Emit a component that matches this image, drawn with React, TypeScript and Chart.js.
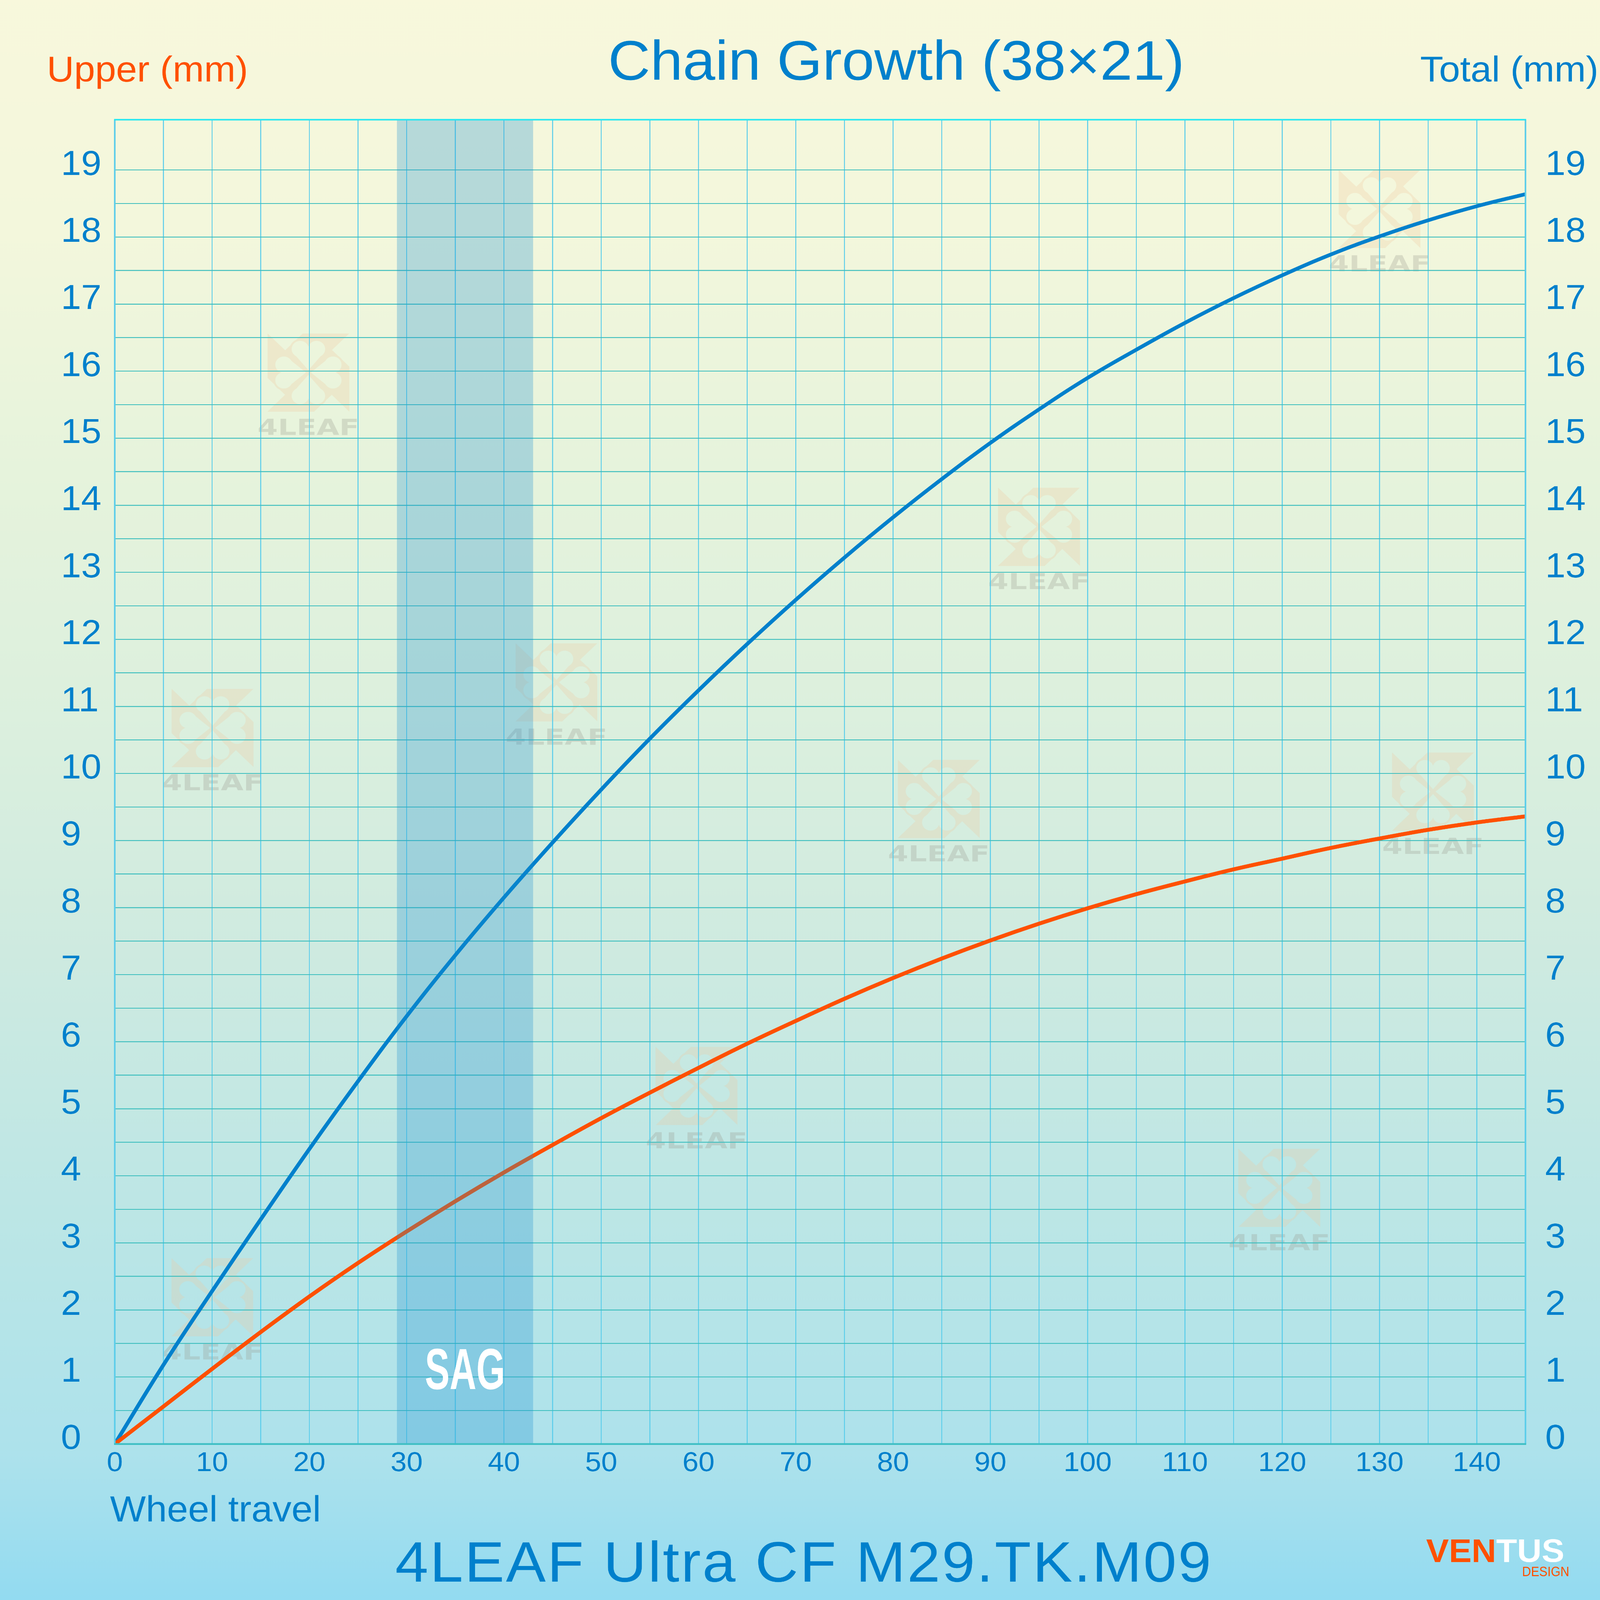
import React, { useEffect, useRef, useState } from 'react';
import { Chart, registerables } from 'chart.js';

Chart.register(...registerables);

// ---------- data ----------
const wheelTravel = [0, 5, 10, 15, 20, 25, 30, 35, 40, 45, 50, 55, 60, 65, 70, 75, 80, 85, 90, 95, 100, 105, 110, 115, 120, 125, 130, 135, 140, 145];
const totalGrowth = [0, 1.18, 2.28, 3.35, 4.4, 5.41, 6.38, 7.29, 8.15, 8.97, 9.76, 10.52, 11.24, 11.93, 12.59, 13.22, 13.82, 14.39, 14.93, 15.43, 15.9, 16.32, 16.72, 17.09, 17.43, 17.74, 18.01, 18.25, 18.46, 18.64];
const upperGrowth = [0, 0.56, 1.12, 1.67, 2.2, 2.7, 3.17, 3.62, 4.05, 4.46, 4.86, 5.24, 5.61, 5.97, 6.31, 6.64, 6.95, 7.24, 7.51, 7.76, 7.99, 8.2, 8.39, 8.57, 8.73, 8.89, 9.03, 9.16, 9.27, 9.36];
const xGridValues = [0, 5, 10, 15, 20, 25, 30, 35, 40, 45, 50, 55, 60, 65, 70, 75, 80, 85, 90, 95, 100, 105, 110, 115, 120, 125, 130, 135, 140, 145];
const xTickLabels = [0, 10, 20, 30, 40, 50, 60, 70, 80, 90, 100, 110, 120, 130, 140];
const yGridValues = [0, 0.5, 1, 1.5, 2, 2.5, 3, 3.5, 4, 4.5, 5, 5.5, 6, 6.5, 7, 7.5, 8, 8.5, 9, 9.5, 10, 10.5, 11, 11.5, 12, 12.5, 13, 13.5, 14, 14.5, 15, 15.5, 16, 16.5, 17, 17.5, 18, 18.5, 19];
const yTickLabels = [0, 1, 2, 3, 4, 5, 6, 7, 8, 9, 10, 11, 12, 13, 14, 15, 16, 17, 18, 19];
const xRange = [0, 145];
const yRange = [0, 19.75];
const sagRange = [29, 43];
const sagLabelAt = [36, 0.82];
const watermarkSpots = [
  [19.9, 15.98], [10.05, 10.68], [45.4, 11.36], [95, 13.68], [130, 18.42],
  [84.7, 9.62], [135.5, 9.73], [59.8, 5.34], [119.7, 3.82], [10.03, 2.19],
];

const chartTitle = 'Chain Growth (38×21)';
const leftAxisTitle = 'Upper (mm)';
const rightAxisTitle = 'Total (mm)';
const xAxisTitle = 'Wheel travel';
const modelName = '4LEAF Ultra CF M29.TK.M09';
const sagLabel = 'SAG';
const watermarkText = '4LEAF';
const brandA = 'VEN';
const brandB = 'TUS';
const brandSub = 'DESIGN';

// ---------- style ----------
const W = 7039;
const H = 7365;
const BLUE = '#0080cc';
const ORANGE = '#ff5000';
const FONT = "'Liberation Sans', Arial, Helvetica, sans-serif";
const PLOT = { left: 505, right: 6711, top: 551, bottom: 6647 };

function buildLogo(s: number): HTMLCanvasElement {
  const c = document.createElement('canvas');
  c.width = s;
  c.height = s;
  const g = c.getContext('2d') as CanvasRenderingContext2D;
  const poly = [
    [0, 0], [0.216, 0.216], [0.432, 0], [1, 0], [0.788, 0.212], [1, 0.425],
    [1, 1], [0.785, 0.785], [0.57, 1], [0, 1], [0.215, 0.785], [0, 0.568],
  ];
  g.fillStyle = 'rgb(240,200,160)';
  g.beginPath();
  poly.forEach(([x, y], i) => (i ? g.lineTo(x * s, y * s) : g.moveTo(x * s, y * s)));
  g.closePath();
  g.fill();

  const leafParts = (rot: number) => {
    const paths: Path2D[] = [];
    const tr = (x: number, y: number) => {
      const dx = x - 0.5, dy = y - 0.5;
      const c0 = Math.cos(rot), s0 = Math.sin(rot);
      return [(0.5 + dx * c0 - dy * s0) * s, (0.5 + dx * s0 + dy * c0) * s];
    };
    for (const cx of [0.4, 0.6]) {
      const p = new Path2D();
      const [px, py] = tr(cx, 0.2);
      p.arc(px, py, 0.105 * s, 0, Math.PI * 2);
      paths.push(p);
    }
    const t = new Path2D();
    const a = tr(0.298, 0.23), b = tr(0.702, 0.23), d = tr(0.5, 0.47);
    t.moveTo(a[0], a[1]);
    t.lineTo(b[0], b[1]);
    t.lineTo(d[0], d[1]);
    t.closePath();
    paths.push(t);
    return paths;
  };
  const all: Path2D[] = [];
  for (let k = 0; k < 4; k++) all.push(...leafParts((k * Math.PI) / 2));
  g.strokeStyle = 'rgb(240,200,160)';
  g.lineWidth = 0.045 * s;
  g.lineJoin = 'round';
  all.forEach((p) => g.stroke(p));
  g.globalCompositeOperation = 'destination-out';
  all.forEach((p) => g.fill(p));
  g.globalCompositeOperation = 'source-over';
  return c;
}

const backgroundPlugin = {
  id: 'backgroundPlugin',
  beforeDraw(chart: any) {
    const ctx = chart.ctx as CanvasRenderingContext2D;
    const grad = ctx.createLinearGradient(0, 0, 0, H);
    grad.addColorStop(0, 'rgb(248,248,220)');
    grad.addColorStop(0.15, 'rgb(243,247,220)');
    grad.addColorStop(0.27, 'rgb(232,244,220)');
    grad.addColorStop(0.45, 'rgb(220,240,222)');
    grad.addColorStop(0.58, 'rgb(208,235,224)');
    grad.addColorStop(0.77, 'rgb(187,230,230)');
    grad.addColorStop(0.91, 'rgb(173,226,236)');
    grad.addColorStop(1, 'rgb(147,219,241)');
    ctx.save();
    ctx.fillStyle = grad;
    ctx.fillRect(0, 0, W, H);

    // watermarks
    const xs = chart.scales.x;
    const ys = chart.scales.y;
    const S = 360;
    const logo = buildLogo(S);
    watermarkSpots.forEach(([vx, vy]) => {
      const px = xs.getPixelForValue(vx);
      const py = ys.getPixelForValue(vy);
      ctx.globalAlpha = 0.27;
      ctx.drawImage(logo, px - S / 2, py - S / 2, S, S);
      ctx.globalAlpha = 1;
      ctx.save();
      ctx.font = `bold 101px 'DejaVu Sans', ${FONT}`;
      const tw = ctx.measureText(watermarkText).width;
      const sx = 448 / tw;
      ctx.translate(px, py + 261);
      ctx.scale(sx, 1);
      ctx.fillStyle = 'rgba(150,150,140,0.28)';
      ctx.textAlign = 'center';
      ctx.textBaseline = 'middle';
      ctx.fillText(watermarkText, 0, 0);
      ctx.restore();
    });
    ctx.restore();
  },
};

const overlayPlugin = {
  id: 'overlayPlugin',
  afterDatasetsDraw(chart: any) {
    const ctx = chart.ctx as CanvasRenderingContext2D;
    const area = chart.chartArea;
    const xs = chart.scales.x;
    const ys = chart.scales.y;
    ctx.save();
    // SAG band
    const x0 = xs.getPixelForValue(sagRange[0]);
    const x1 = xs.getPixelForValue(sagRange[1]);
    ctx.fillStyle = 'rgba(26,142,210,0.286)';
    ctx.fillRect(x0, area.top, x1 - x0, area.bottom - area.top);
    // SAG label
    ctx.save();
    ctx.translate(xs.getPixelForValue(sagLabelAt[0]), ys.getPixelForValue(sagLabelAt[1]));
    ctx.scale(0.61, 1);
    ctx.font = `bold 267px ${FONT}`;
    ctx.fillStyle = '#ffffff';
    ctx.textAlign = 'center';
    ctx.textBaseline = 'alphabetic';
    ctx.fillText(sagLabel, 0, 0);
    ctx.restore();
    // frame
    ctx.lineCap = 'butt';
    ctx.lineWidth = 7;
    ctx.strokeStyle = '#5ccdea';
    ctx.beginPath();
    ctx.moveTo(area.left, area.top);
    ctx.lineTo(area.left, area.bottom);
    ctx.moveTo(area.right, area.top);
    ctx.lineTo(area.right, area.bottom);
    ctx.stroke();
    ctx.strokeStyle = '#3fbfc4';
    ctx.lineWidth = 8;
    ctx.beginPath();
    ctx.moveTo(area.left - 3, area.bottom);
    ctx.lineTo(area.right + 3, area.bottom);
    ctx.stroke();
    ctx.strokeStyle = '#22e8f2';
    ctx.lineWidth = 7;
    ctx.beginPath();
    ctx.moveTo(area.left - 3, area.top);
    ctx.lineTo(area.right + 3, area.top);
    ctx.stroke();
    ctx.restore();
  },
  afterDraw(chart: any) {
    const ctx = chart.ctx as CanvasRenderingContext2D;
    ctx.save();
    ctx.textBaseline = 'alphabetic';
    // main title
    ctx.fillStyle = BLUE;
    ctx.font = `257px ${FONT}`;
    ctx.textAlign = 'center';
    ctx.fillText(chartTitle, 3943, 367);
    // axis titles
    ctx.font = `166px ${FONT}`;
    ctx.fillStyle = ORANGE;
    ctx.textAlign = 'left';
    ctx.fillText(leftAxisTitle, 206, 375);
    ctx.fillStyle = BLUE;
    ctx.textAlign = 'right';
    ctx.fillText(rightAxisTitle, 7032, 375);
    ctx.font = `167px ${FONT}`;
    ctx.textAlign = 'left';
    ctx.fillText(xAxisTitle, 484, 7003);
    // model name
    ctx.font = `262px ${FONT}`;
    ctx.textAlign = 'center';
    (ctx as any).letterSpacing = '7px';
    ctx.fillText(modelName, 3537, 7280);
    (ctx as any).letterSpacing = '0px';
    // brand
    ctx.font = `bold 150px ${FONT}`;
    ctx.textAlign = 'left';
    ctx.fillStyle = ORANGE;
    ctx.fillText(brandA, 6274, 7190);
    const wa = ctx.measureText(brandA).width;
    ctx.fillStyle = '#ffffff';
    ctx.fillText(brandB, 6274 + wa, 7190);
    ctx.save();
    ctx.font = `63px ${FONT}`;
    ctx.fillStyle = ORANGE;
    ctx.textAlign = 'right';
    ctx.translate(6904, 7255);
    ctx.scale(0.86, 1);
    ctx.fillText(brandSub, 0, 0);
    ctx.restore();
    ctx.restore();
  },
};

function viewportScale() {
  const iw = window.innerWidth || document.documentElement.clientWidth || W;
  const ih = window.innerHeight || document.documentElement.clientHeight || H;
  return { sx: Math.min(1, iw / W), sy: Math.min(1, ih / H) };
}

export default function App() {
  const canvasRef = useRef<HTMLCanvasElement | null>(null);
  const [scale] = useState(viewportScale);

  useEffect(() => {
    document.body.style.margin = '0';
    document.body.style.overflow = 'hidden';
    const canvas = canvasRef.current;
    if (!canvas) return;

    const toPoints = (ys: number[]) => wheelTravel.map((x, i) => ({ x, y: ys[i] }));
    const tickFont = (size: number) => ({ family: FONT, size, weight: 'normal' as const });

    const chart = new Chart(canvas, {
      type: 'line',
      data: {
        datasets: [
          {
            label: 'Upper',
            data: toPoints(upperGrowth),
            borderColor: ORANGE,
            borderWidth: 18,
            pointRadius: 0,
            tension: 0.4,
            borderCapStyle: 'round',
            borderJoinStyle: 'round',
            fill: false,
            yAxisID: 'y',
          },
          {
            label: 'Total',
            data: toPoints(totalGrowth),
            borderColor: BLUE,
            borderWidth: 17,
            pointRadius: 0,
            tension: 0.4,
            borderCapStyle: 'round',
            borderJoinStyle: 'round',
            fill: false,
            yAxisID: 'y1',
          },
        ],
      },
      options: {
        animation: false,
        responsive: false,
        devicePixelRatio: 1,
        layout: { padding: { top: PLOT.top, left: 268, right: 0, bottom: 0 } },
        plugins: {
          legend: { display: false },
          tooltip: { enabled: false },
          title: { display: false },
        },
        scales: {
          x: {
            type: 'linear',
            position: 'bottom',
            min: xRange[0],
            max: xRange[1],
            afterBuildTicks: (s: any) => {
              s.ticks = xGridValues.map((v) => ({ value: v }));
            },
            afterFit: (s: any) => {
              s.height = H - PLOT.bottom;
            },
            ticks: {
              autoSkip: false,
              maxRotation: 0,
              minRotation: 0,
              padding: 14,
              color: BLUE,
              font: tickFont(127),
              callback: (v: any) => (xTickLabels.includes(Number(v)) ? String(v) : ''),
            },
            grid: { color: '#5acdeb', lineWidth: 4, drawTicks: false },
            border: { display: false },
          },
          y: {
            type: 'linear',
            position: 'left',
            min: yRange[0],
            max: yRange[1],
            afterBuildTicks: (s: any) => {
              s.ticks = yGridValues.map((v) => ({ value: v }));
            },
            afterFit: (s: any) => {
              s.width = PLOT.left - 268;
            },
            ticks: {
              autoSkip: false,
              crossAlign: 'far',
              padding: 0,
              labelOffset: -22,
              color: BLUE,
              font: tickFont(160),
              callback: (v: any) => (yTickLabels.includes(Number(v)) ? String(v) : ''),
            },
            grid: { color: '#3cbebe', lineWidth: 4, drawTicks: false },
            border: { display: false },
          },
          y1: {
            type: 'linear',
            position: 'right',
            min: yRange[0],
            max: yRange[1],
            afterBuildTicks: (s: any) => {
              s.ticks = yGridValues.map((v) => ({ value: v }));
            },
            afterFit: (s: any) => {
              s.width = W - PLOT.right;
            },
            ticks: {
              autoSkip: false,
              padding: 87,
              labelOffset: -22,
              color: BLUE,
              font: tickFont(160),
              callback: (v: any) => (yTickLabels.includes(Number(v)) ? String(v) : ''),
            },
            grid: { display: false, drawTicks: false },
            border: { display: false },
          },
        },
      },
      plugins: [backgroundPlugin, overlayPlugin],
    } as any);

    return () => {
      chart.destroy();
    };
  }, []);

  return (
    <div style={{ width: W * scale.sx, height: H * scale.sy, overflow: 'hidden', position: 'relative' }}>
      <canvas
        ref={canvasRef}
        width={W}
        height={H}
        style={{
          display: 'block',
          width: W,
          height: H,
          transformOrigin: '0 0',
          transform: `scale(${scale.sx}, ${scale.sy})`,
        }}
      />
    </div>
  );
}
